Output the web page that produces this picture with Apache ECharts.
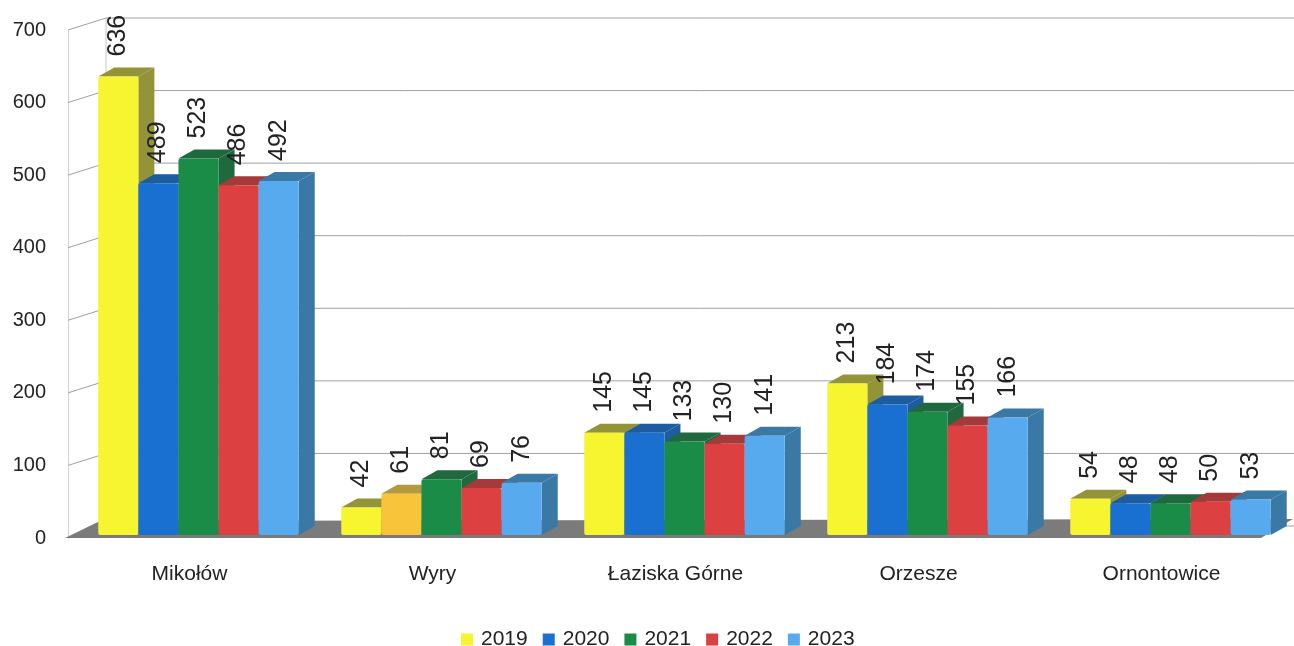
<!DOCTYPE html>
<html>
<head>
<meta charset="utf-8">
<title>Mikołów, Wyry, Łaziska Górne, Orzesze, Ornontowice 2019-2023</title>
<script src="https://cdn.jsdelivr.net/npm/echarts@6/dist/echarts.min.js"></script>
<style>
  html, body { margin: 0; padding: 0; background: #fff; }
  #chart { width: 1294px; height: 646px; }
</style>
</head>
<body>
<div id="chart"></div>
<script>
// data
const categories = ["Mikołów", "Wyry", "Łaziska Górne", "Orzesze", "Ornontowice"];
const years = ["2019", "2020", "2021", "2022", "2023"];
const v2019 = [636, 42, 145, 213, 54];
const v2020 = [489, 61, 145, 184, 48];
const v2021 = [523, 81, 133, 174, 48];
const v2022 = [486, 69, 130, 155, 50];
const v2023 = [492, 76, 141, 166, 53];
const yTicks = [0, 100, 200, 300, 400, 500, 600, 700];

const seriesValues = [v2019, v2020, v2021, v2022, v2023];

// colours: front face / side + top
const fronts = ["#f7f52f", "#1a70d0", "#1b8c48", "#dd4040", "#58aaee"];
const sides = ["#939338", "#1d5c9e", "#20693e", "#a53a3a", "#3a78a6"];
// the one odd bar (Wyry, 2020) is drawn orange in the original
const oddFront = "#f7c43a";
const oddSide = "#b39a3c";

const FONT = '"Liberation Sans", Arial, sans-serif';
const WALL_DX = 38, WALL_DY = 12;   // back wall offset
const BAR_DX = 16, BAR_DY = 9;      // bar depth

const chart = echarts.init(document.getElementById("chart"));

function barRenderer(k) {
  return function (params, api) {
    const ci = api.value(0);
    const v = api.value(1);
    const base = api.coord([ci, 0]);
    const top = api.coord([ci, v]);
    const band = api.size([1, 0])[0];
    const w = band * 0.165;
    const x0 = base[0] + 9 - 2.5 * w + k * w;
    const yb = base[1] - 3;
    const yt = top[1];
    const odd = categories[ci] === "Wyry" && k === 1;
    const front = odd ? oddFront : fronts[k];
    const side = odd ? oddSide : sides[k];
    return {
      type: "group",
      children: [
        {
          type: "polygon",
          shape: { points: [[x0 + w, yt], [x0 + w + BAR_DX, yt - BAR_DY], [x0 + w + BAR_DX, yb - BAR_DY], [x0 + w, yb]] },
          style: { fill: side },
          z2: 1
        },
        {
          type: "polygon",
          shape: { points: [[x0, yt], [x0 + w, yt], [x0 + w + BAR_DX, yt - BAR_DY], [x0 + BAR_DX, yt - BAR_DY]] },
          style: { fill: side },
          z2: 1
        },
        {
          type: "rect",
          shape: { x: x0, y: yt, width: w, height: yb - yt, r: 2 },
          style: { fill: front },
          z2: 2
        },
        {
          type: "text",
          x: x0 + w / 2,
          y: yt - 20,
          rotation: Math.PI / 2,
          style: {
            text: String(v),
            font: "25px " + FONT,
            fill: "#222",
            align: "left",
            verticalAlign: "middle"
          },
          z2: 100
        }
      ]
    };
  };
}

function wallRenderer(params, api) {
  const t = api.value(1);
  const p = api.coord([0, t]);
  const left = params.coordSys.x;
  const right = params.coordSys.x + params.coordSys.width;
  const y = p[1];
  const children = [
    {
      type: "polyline",
      shape: { points: [[left, y], [left + WALL_DX, y - WALL_DY], [right + 30, y - WALL_DY]] },
      style: { stroke: "#a0a0a0", lineWidth: 1, fill: null }
    }
  ];
  if (t === yTicks[yTicks.length - 1]) {
    const y0 = api.coord([0, 0])[1];
    children.push({
      type: "line",
      shape: { x1: left + WALL_DX, y1: y - WALL_DY, x2: left + WALL_DX, y2: y0 - WALL_DY },
      style: { stroke: "#c8c8c8", lineWidth: 1 }
    });
  }
  if (t === 0) {
    children.push({
      type: "polygon",
      shape: { points: [[left - 3, y], [right - 22, y], [right + 10, y - 19], [left + 32, y - 17]] },
      style: { fill: "#7b7b7b" },
      z2: 5
    });
  }
  return { type: "group", children: children };
}

const series = [
  {
    name: "wall",
    type: "custom",
    z: 1,
    silent: true,
    renderItem: wallRenderer,
    data: yTicks.map(function (t) { return [0, t]; }),
    encode: { x: 0, y: 1 }
  }
];
years.forEach(function (yr, k) {
  series.push({
    name: yr,
    type: "custom",
    z: 2,
    renderItem: barRenderer(k),
    itemStyle: { color: fronts[k] },
    data: seriesValues[k].map(function (v, i) { return [i, v]; }),
    encode: { x: 0, y: 1 }
  });
});

chart.setOption({
  animation: false,
  backgroundColor: "#fff",
  textStyle: { fontFamily: FONT },
  grid: { left: 68, right: 11, top: 30, bottom: 108 },
  legend: {
    data: years,
    top: 624,
    left: 456,
    icon: "rect",
    itemWidth: 12,
    itemHeight: 12,
    itemGap: 15,
    textStyle: { fontSize: 21, color: "#222", fontFamily: FONT, padding: [0, 0, 0, 3] }
  },
  xAxis: {
    type: "category",
    data: categories,
    axisLine: { show: false },
    axisTick: { show: false },
    axisLabel: { fontSize: 21, color: "#222", margin: 26 }
  },
  yAxis: {
    type: "value",
    min: 0,
    max: 700,
    interval: 100,
    axisLine: { show: true, lineStyle: { color: "#c8c8c8", type: "dotted" } },
    axisTick: { show: false },
    splitLine: { show: false },
    axisLabel: { fontSize: 20, color: "#222", margin: 22 }
  },
  series: series
});

window.addEventListener("resize", function () {
  chart && chart.resize();
});
</script>
</body>
</html>
